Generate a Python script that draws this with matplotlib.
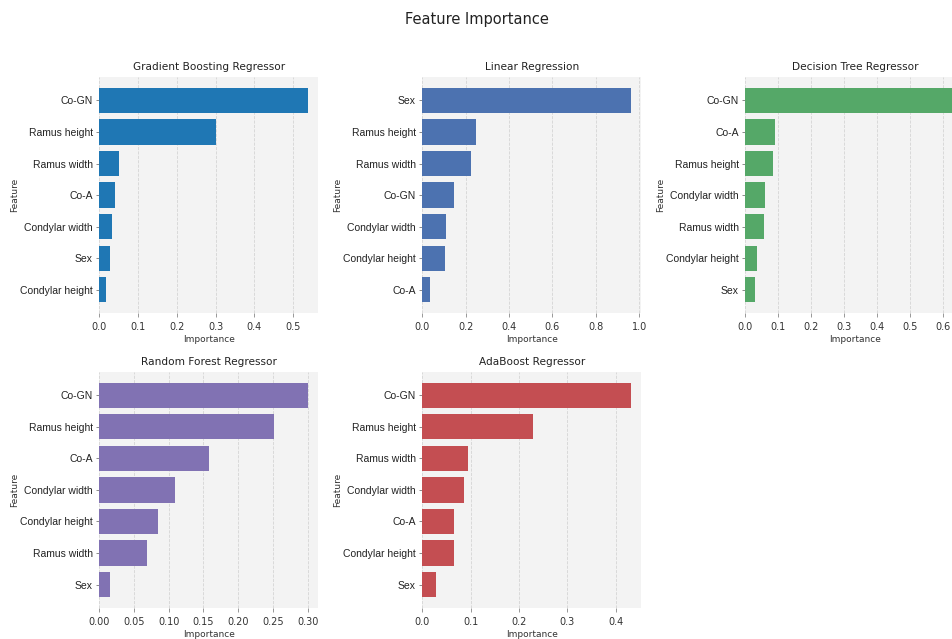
import matplotlib
matplotlib.use("Agg")
import matplotlib.pyplot as plt

# feature importances per model, listed from largest to smallest
gb_features = ["Co-GN", "Ramus height", "Ramus width", "Co-A", "Condylar width", "Sex", "Condylar height"]
gb_values = [0.538, 0.300, 0.052, 0.042, 0.032, 0.027, 0.017]

lr_features = ["Sex", "Ramus height", "Ramus width", "Co-GN", "Condylar width", "Condylar height", "Co-A"]
lr_values = [0.962, 0.247, 0.223, 0.146, 0.111, 0.106, 0.038]

dt_features = ["Co-GN", "Co-A", "Ramus height", "Condylar width", "Ramus width", "Condylar height", "Sex"]
dt_values = [0.632, 0.089, 0.085, 0.060, 0.056, 0.037, 0.028]

rf_features = ["Co-GN", "Ramus height", "Co-A", "Condylar width", "Condylar height", "Ramus width", "Sex"]
rf_values = [0.300, 0.251, 0.158, 0.109, 0.085, 0.069, 0.015]

ada_features = ["Co-GN", "Ramus height", "Ramus width", "Condylar width", "Co-A", "Condylar height", "Sex"]
ada_values = [0.431, 0.229, 0.094, 0.087, 0.065, 0.065, 0.029]

model_names = ["Gradient Boosting Regressor", "Linear Regression", "Decision Tree Regressor",
               "Random Forest Regressor", "AdaBoost Regressor"]
model_colors = ["#1f77b4", "#4c72b0", "#55a868", "#8172b3", "#c44e52"]

plt.rcParams['font.family'] = ['DejaVu Sans']

fig, axes = plt.subplots(2, 3, figsize=(9.53, 6.39), dpi=100)
# the right column runs slightly past the figure edge
fig.subplots_adjust(left=0.104, right=1.012, bottom=0.0485, top=0.8795, wspace=0.474, hspace=0.248)

panels = [
    (axes[0, 0], gb_features, gb_values),
    (axes[0, 1], lr_features, lr_values),
    (axes[0, 2], dt_features, dt_values),
    (axes[1, 0], rf_features, rf_values),
    (axes[1, 1], ada_features, ada_values),
]

for (ax, feats, vals), name, color in zip(panels, model_names, model_colors):
    ax.barh(feats, vals, height=0.8, color=color)
    ax.invert_yaxis()
    ax.set_facecolor("#f3f3f3")
    for s in ax.spines.values():
        s.set_visible(False)
    ax.set_axisbelow(True)
    ax.grid(axis="x", linestyle="--", linewidth=0.6, color="#d4d4d4")
    ax.set_title(name, fontsize=7.6, color="#222222", pad=5)
    ax.set_xlabel("Importance", fontsize=6.5, color="#333333", labelpad=2)
    ax.set_ylabel("Feature", fontsize=6.5, color="#333333", labelpad=1)
    ax.tick_params(axis="x", labelsize=7, length=3, width=0.6, color="#888888", labelcolor="#333333", pad=3.5)
    ax.tick_params(axis="y", length=2.5, width=0.6, color="#777777", pad=2)
    for lbl in ax.get_yticklabels():
        lbl.set_fontfamily("Liberation Sans")
        lbl.set_fontsize(7.5)
        lbl.set_color("#222222")

axes[1, 2].axis("off")

fig.suptitle("Feature Importance", fontsize=10.5, y=0.982, color="#222222")

fig.savefig("out.png", dpi=100)
